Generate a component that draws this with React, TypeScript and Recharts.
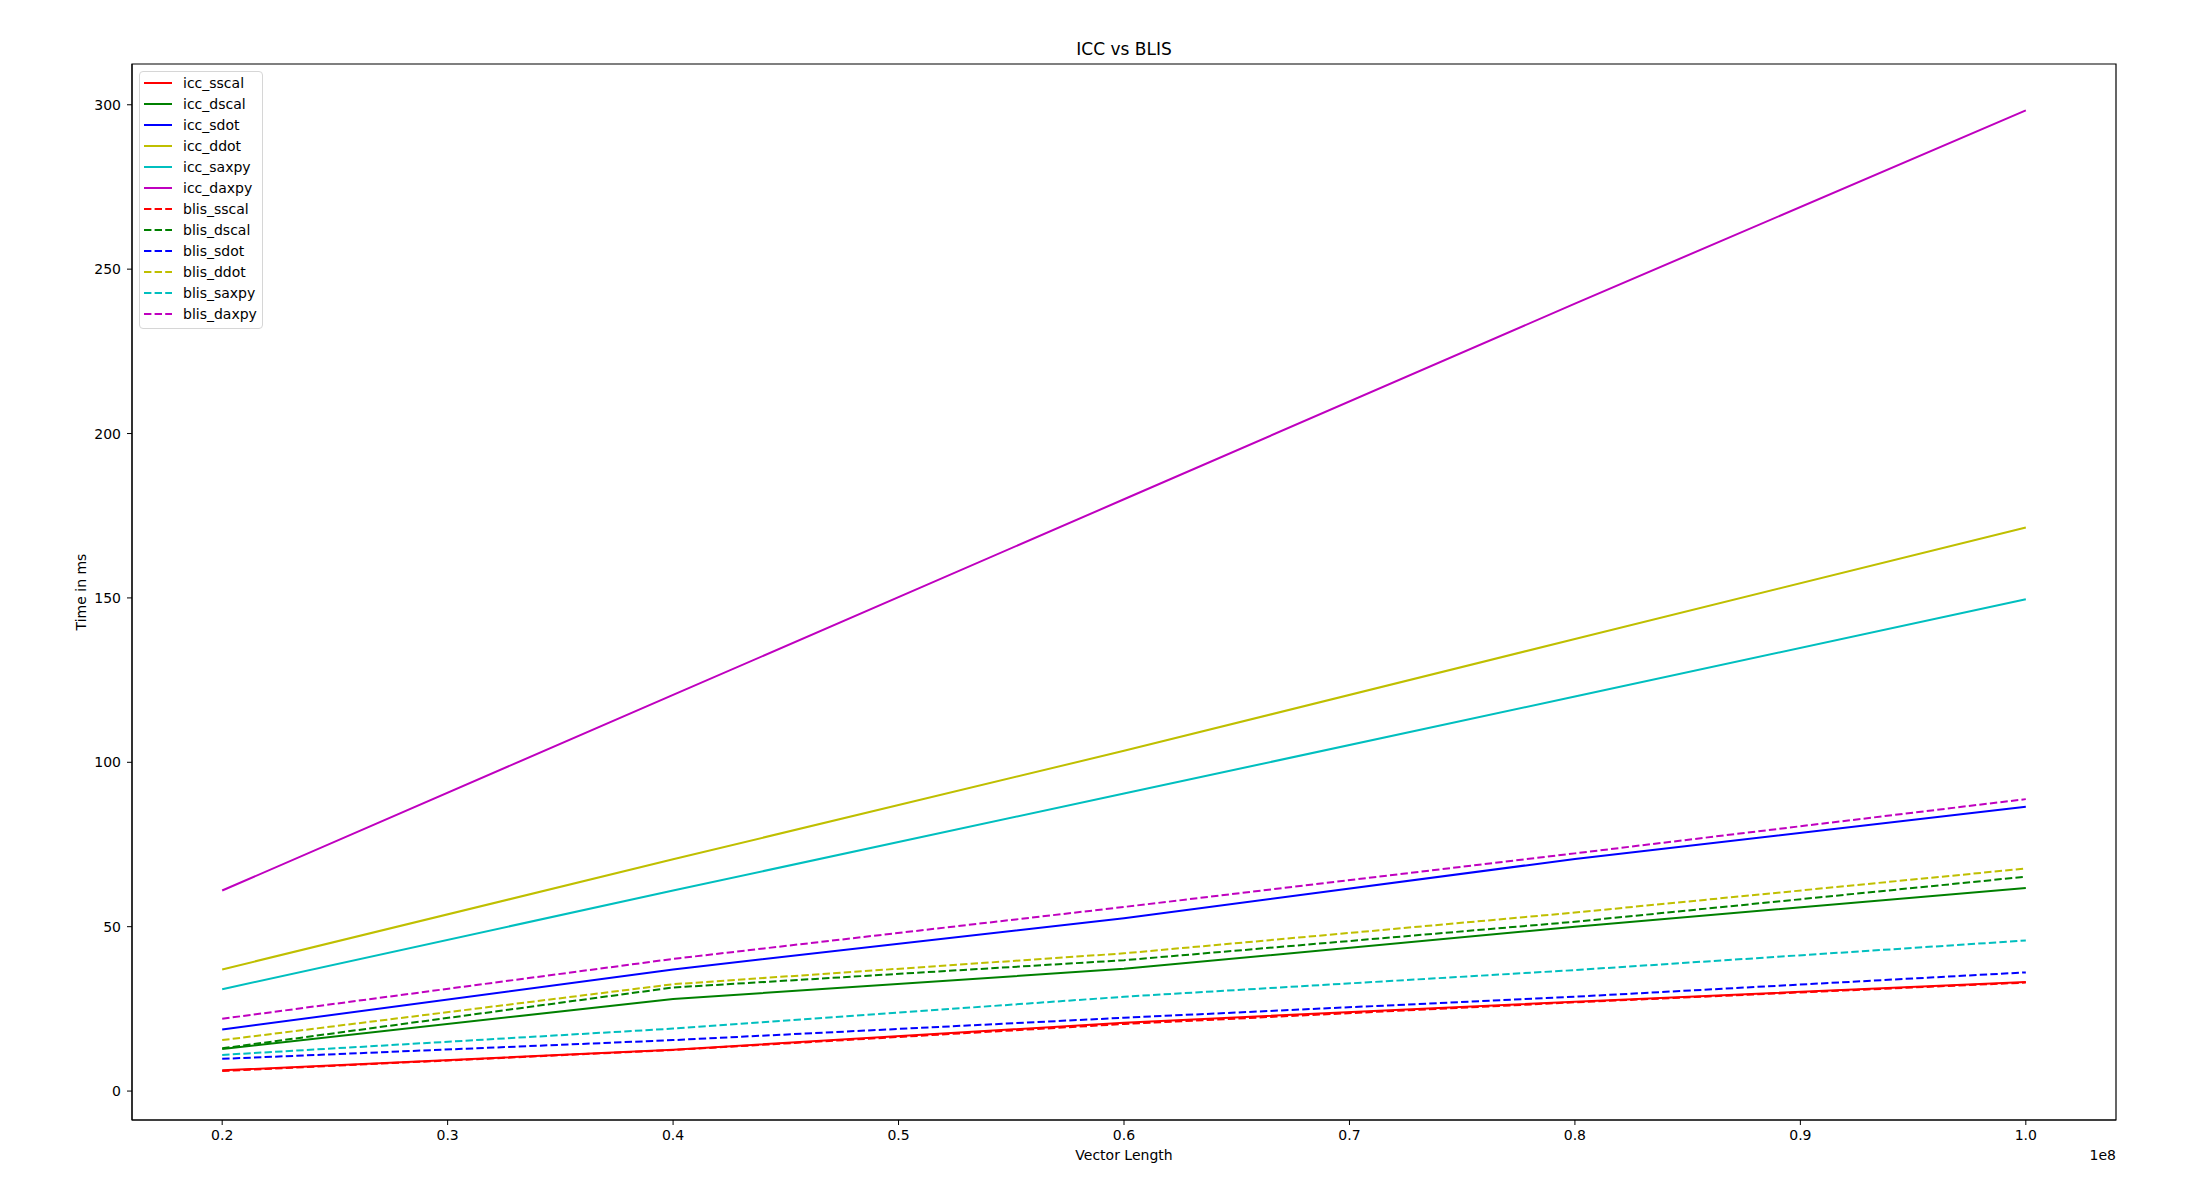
import React from 'react';
import { LineChart, Line, XAxis, YAxis, ReferenceArea, Legend, Customized } from 'recharts';

const FONT = '"DejaVu Sans", sans-serif';

const xValues = [0.2, 0.4, 0.6, 0.8, 1.0];
const xTicks = [0.2, 0.3, 0.4, 0.5, 0.6, 0.7, 0.8, 0.9, 1.0];
const yTicks = [0, 50, 100, 150, 200, 250, 300];

const iccSscal = [6.3, 12.6, 20.8, 27.2, 33.2];
const iccDscal = [12.8, 28.0, 37.2, 50.0, 61.8];
const iccSdot = [18.7, 37.0, 52.6, 70.6, 86.5];
const iccDdot = [37.0, 70.5, 103.5, 137.5, 171.4];
const iccSaxpy = [31.0, 61.0, 90.5, 120.0, 149.6];
const iccDaxpy = [61.0, 120.5, 180.0, 239.5, 298.3];
const blisSscal = [6.1, 12.5, 20.4, 27.0, 33.0];
const blisDscal = [13.0, 31.5, 39.8, 51.5, 65.2];
const blisSdot = [9.8, 15.5, 22.3, 28.7, 36.1];
const blisDdot = [15.5, 32.5, 41.9, 54.3, 67.7];
const blisSaxpy = [11.0, 19.0, 28.7, 36.8, 45.8];
const blisDaxpy = [22.0, 40.2, 56.0, 72.3, 88.8];

const seriesDefs = [
  { key: 'icc_sscal', values: iccSscal, color: '#ff0000', dashed: false },
  { key: 'icc_dscal', values: iccDscal, color: '#008000', dashed: false },
  { key: 'icc_sdot', values: iccSdot, color: '#0000ff', dashed: false },
  { key: 'icc_ddot', values: iccDdot, color: '#bfbf00', dashed: false },
  { key: 'icc_saxpy', values: iccSaxpy, color: '#00bfbf', dashed: false },
  { key: 'icc_daxpy', values: iccDaxpy, color: '#bf00bf', dashed: false },
  { key: 'blis_sscal', values: blisSscal, color: '#ff0000', dashed: true },
  { key: 'blis_dscal', values: blisDscal, color: '#008000', dashed: true },
  { key: 'blis_sdot', values: blisSdot, color: '#0000ff', dashed: true },
  { key: 'blis_ddot', values: blisDdot, color: '#bfbf00', dashed: true },
  { key: 'blis_saxpy', values: blisSaxpy, color: '#00bfbf', dashed: true },
  { key: 'blis_daxpy', values: blisDaxpy, color: '#bf00bf', dashed: true },
];

const data = xValues.map((x, i) => {
  const row: Record<string, number> = { x };
  seriesDefs.forEach((s) => {
    row[s.key] = s.values[i];
  });
  return row;
});

const DASH = '7.4 3.2';
const Y_DOMAIN: [number, number] = [-8.8, 312.4];

const renderLegend = () => (
  <div
    style={{
      border: '1px solid #d6d6d6',
      borderRadius: 4,
      background: 'rgba(255,255,255,0.8)',
      width: 122,
      padding: '0 0 3px 0',
      boxSizing: 'content-box',
    }}
  >
    {seriesDefs.map((s) => (
      <div key={s.key} style={{ display: 'flex', alignItems: 'center', height: 21.05 }}>
        <svg width={28} height={4} style={{ marginLeft: 4, display: 'block' }}>
          <line
            x1={0}
            y1={2}
            x2={28}
            y2={2}
            stroke={s.color}
            strokeWidth={2}
            strokeDasharray={s.dashed ? DASH : undefined}
          />
        </svg>
        <span style={{ marginLeft: 11, fontSize: 14, fontFamily: FONT, color: '#000', lineHeight: '16px' }}>
          {s.key}
        </span>
      </div>
    ))}
  </div>
);

const TextLayer = () => (
  <g fontFamily={FONT} fill="#000">
    <text x={1124} y={55} textAnchor="middle" fontSize={17}>
      ICC vs BLIS
    </text>
    <text x={1124} y={1160} textAnchor="middle" fontSize={14}>
      Vector Length
    </text>
    <text x={2116} y={1160} textAnchor="end" fontSize={14}>
      1e8
    </text>
    <text x={86} y={592} textAnchor="middle" fontSize={14} transform="rotate(-90, 86, 592)">
      Time in ms
    </text>
  </g>
);

export default function App() {
  return (
    <div style={{ position: 'absolute', left: 0, top: 0, width: 2206, height: 1197, background: '#fff' }}>
      <LineChart width={2206} height={1197} data={data} margin={{ top: 64, right: 90, bottom: 0, left: 0 }}>
        <XAxis
          type="number"
          dataKey="x"
          domain={[0.16, 1.04]}
          ticks={xTicks}
          allowDataOverflow
          tickFormatter={(v: number) => v.toFixed(1)}
          tick={{ fill: '#000', fontSize: 14, fontFamily: FONT }}
          tickLine={{ stroke: '#000' }}
          axisLine={{ stroke: '#000' }}
          tickSize={5}
          tickMargin={5}
          height={77}
        />
        <YAxis
          type="number"
          domain={Y_DOMAIN}
          ticks={yTicks}
          allowDataOverflow
          tick={{ fill: '#000', fontSize: 14, fontFamily: FONT }}
          tickLine={{ stroke: '#000' }}
          axisLine={{ stroke: '#000' }}
          tickSize={5}
          tickMargin={6}
          width={132}
        />
        {seriesDefs.map((s) => (
          <Line
            key={s.key}
            type="linear"
            dataKey={s.key}
            name={s.key}
            stroke={s.color}
            strokeWidth={2}
            strokeDasharray={s.dashed ? DASH : undefined}
            dot={false}
            activeDot={false}
            isAnimationActive={false}
          />
        ))}
        <ReferenceArea
          x1={0.16}
          x2={1.04}
          y1={Y_DOMAIN[0]}
          y2={Y_DOMAIN[1]}
          fill="none"
          fillOpacity={0}
          stroke="#000"
          strokeWidth={1.2}
          ifOverflow="visible"
        />
        <Legend
          layout="vertical"
          align="center"
          verticalAlign="middle"
          wrapperStyle={{ position: 'absolute', left: 139, top: 71, width: 'auto', height: 'auto' }}
          content={renderLegend}
        />
        <Customized component={<TextLayer />} />
      </LineChart>
    </div>
  );
}
